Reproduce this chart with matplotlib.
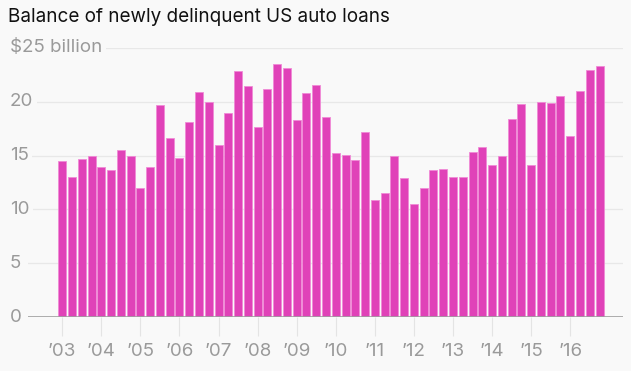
import matplotlib.pyplot as plt
import numpy as np

# Quarterly balance, 2003 Q1 .. 2016 Q4 ($ billion)
values = [
    14.5, 13.0, 14.7, 15.0,   # 2003
    13.9, 13.7, 15.5, 15.0,   # 2004
    12.0, 13.9, 19.7, 16.6,   # 2005
    14.8, 18.1, 20.9, 20.0,   # 2006
    16.0, 19.0, 22.9, 21.5,   # 2007
    17.7, 21.2, 23.5, 23.1,   # 2008
    18.3, 20.8, 21.6, 18.6,   # 2009
    15.2, 15.1, 14.6, 17.2,   # 2010
    10.9, 11.5, 15.0, 12.9,   # 2011
    10.5, 12.0, 13.7, 13.8,   # 2012
    13.0, 13.0, 15.3, 15.8,   # 2013
    14.1, 15.0, 18.4, 19.8,   # 2014
    14.1, 20.0, 19.9, 20.5,   # 2015
    16.8, 21.0, 23.0, 23.3,   # 2016
]
year_labels = ["\u201903", "\u201904", "\u201905", "\u201906", "\u201907", "\u201908", "\u201909",
               "\u201910", "\u201911", "\u201912", "\u201913", "\u201914", "\u201915", "\u201916"]
y_ticks = [0, 5, 10, 15, 20, 25]
y_labels = ["0", "5", "10", "15", "20", "$25 billion"]
title = "Balance of newly delinquent US auto loans"

bg = "#f9f9f9"
bar_color = "#e042b8"
gray = "#9a9a9a"

plt.rcParams['font.family'] = ['Inter', 'DejaVu Sans']

fig = plt.figure(figsize=(6.31, 3.71), dpi=100, facecolor=bg)
ax = fig.add_axes([28 / 631, (371 - 317) / 371, 595 / 631, (317 - 48) / 371])
ax.set_facecolor(bg)

x = np.arange(len(values))
ax.bar(x, values, width=0.82, color=bar_color, edgecolor="#f08ad6",
       linewidth=0.6, zorder=3)

ax.set_xlim(-3.5, 57.4)
ax.set_ylim(0, 25)

# horizontal grid
for t in y_ticks[1:]:
    ax.axhline(t, color="#e8e8e8", linewidth=0.9, zorder=1)
ax.axhline(0, color="#a0a0a0", linewidth=1.2, zorder=4)

for spine in ax.spines.values():
    spine.set_visible(False)

ax.set_yticks([])
trans = ax.get_yaxis_transform()
for t, lab in zip(y_ticks, y_labels):
    ax.text(-18 / 595, t, lab, transform=trans, ha="left", va="center",
            fontsize=13.5, color=gray, zorder=5, clip_on=False,
            bbox=dict(facecolor=bg, edgecolor="none", pad=2.5))

ax.set_xticks(x[::4])
ax.set_xticklabels(year_labels)
ax.tick_params(axis="x", length=14, width=0.8, color="#e4e4e4", pad=5,
               labelsize=13.5, labelcolor=gray)

fig.text(8 / 631, 1 - 17 / 371, title, fontsize=13.6, color="#111111",
         ha="left", va="center")

fig.savefig("out.png", dpi=100, facecolor=bg)
